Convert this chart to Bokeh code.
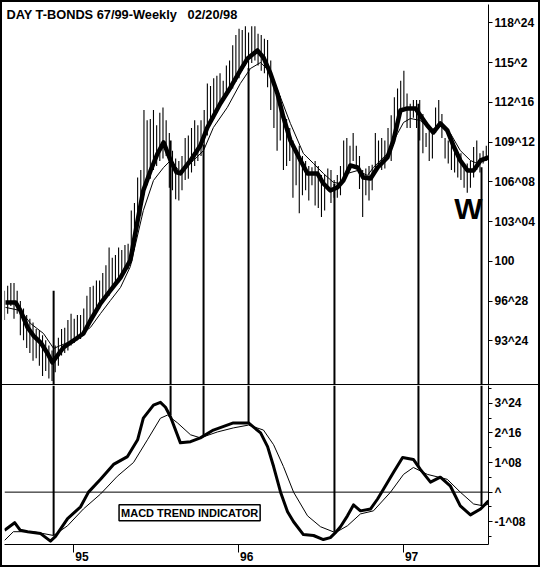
from bokeh.plotting import figure
from bokeh.layouts import column
from bokeh.models import FixedTicker, Span, Label, Range1d
from bokeh.embed import file_html
from bokeh.resources import INLINE

# ---------------- data (x = week index from start of chart) ----------------
weeks = list(range(153))
bar_high = [97.7, 98.1, 98.3, 98.3, 97.7, 96.9, 96.3, 95.8, 95.5, 95.2,
            94.7, 94.6, 94.2, 93.8, 93.4, 93.0, 93.4, 94.0, 94.7, 94.8,
            95.4, 95.9, 95.5, 95.8, 95.8, 96.3, 97.3, 98.0, 98.1, 98.5,
            98.5, 99.1, 99.7, 101.1, 100.3, 100.5, 101.1, 100.9, 101.3, 101.4,
            104.0, 104.6, 106.6, 107.2, 111.9, 111.1, 111.2, 111.9, 110.7, 111.7,
            112.1, 111.1, 110.1, 108.7, 108.1, 107.9, 108.3, 109.7, 109.9, 110.5,
            111.1, 110.7, 111.1, 111.9, 114.0, 113.8, 114.4, 114.6, 114.8, 114.2,
            115.4, 115.8, 117.0, 117.8, 118.3, 118.2, 118.5, 118.0, 118.5, 118.5,
            117.9, 117.8, 117.5, 117.4, 115.8, 114.2, 113.4, 113.0, 111.5, 111.2,
            110.5, 109.5, 108.7, 109.1, 108.3, 107.9, 107.5, 107.4, 107.9, 107.5,
            106.8, 106.8, 107.3, 107.2, 106.4, 106.8, 107.5, 109.5, 109.7, 109.1,
            110.1, 109.1, 108.3, 107.2, 107.3, 107.5, 107.6, 110.1, 109.5, 109.7,
            109.5, 110.5, 111.5, 112.9, 113.6, 114.2, 115.0, 113.2, 112.4, 112.7,
            112.7, 112.7, 111.6, 110.1, 110.3, 110.1, 112.1, 112.7, 111.6, 109.7,
            109.5, 109.3, 108.7, 108.2, 108.5, 107.4, 107.7, 107.9, 109.0, 109.5,
            108.5, 108.7, 109.1]
bar_low = [95.4, 95.9, 96.5, 95.5, 95.9, 94.2, 93.8, 93.2, 92.8, 92.2,
           92.4, 91.8, 91.0, 91.4, 90.8, 90.6, 91.3, 91.8, 92.6, 92.8,
           93.0, 93.4, 93.6, 93.8, 93.9, 94.2, 94.6, 95.2, 95.5, 96.0,
           96.3, 96.8, 97.1, 97.3, 97.7, 98.1, 98.3, 98.7, 99.1, 99.4,
           99.9, 100.9, 102.6, 103.6, 105.2, 106.0, 106.5, 107.2, 107.5, 107.9,
           108.1, 108.3, 105.8, 105.6, 104.9, 104.8, 105.6, 106.4, 106.5, 107.0,
           107.5, 107.9, 108.3, 108.9, 109.9, 110.7, 111.2, 111.7, 112.3, 112.7,
           113.0, 113.3, 113.6, 114.1, 114.4, 115.0, 115.4, 115.2, 115.6, 115.8,
           115.4, 115.0, 114.8, 113.7, 111.9, 110.5, 108.7, 109.5, 107.2, 107.5,
           107.9, 105.0, 106.0, 103.8, 105.2, 105.6, 104.8, 106.0, 104.4, 104.2,
           103.5, 104.0, 105.6, 104.6, 105.0, 105.0, 105.2, 106.4, 106.8, 107.2,
           107.9, 107.5, 105.7, 103.5, 105.2, 104.8, 105.6, 107.2, 107.5, 107.2,
           107.3, 108.5, 107.9, 109.3, 110.5, 111.6, 112.1, 110.5, 110.5, 111.3,
           110.5, 109.5, 108.5, 109.0, 107.9, 108.1, 110.1, 110.5, 109.7, 108.1,
           107.7, 107.2, 107.0, 106.6, 106.4, 105.8, 105.4, 105.8, 106.6, 107.2,
           107.0, 107.7, 107.9]

fast_x = [0.3, 3.5, 5.0, 7.3, 9.1, 11.4, 13.6, 15.1, 16.7, 18.6,
          21.8, 24.9, 27.1, 30.3, 33.4, 36.6, 39.7, 42.0, 43.8, 46.1,
          48.3, 50.2, 52.4, 54.3, 55.5, 58.7, 61.8, 64.0, 68.1, 71.3,
          74.4, 76.7, 79.8, 81.7, 83.9, 86.1, 88.0, 90.2, 93.4, 95.6,
          98.7, 100.6, 102.8, 105.0, 106.9, 109.1, 111.4, 113.2, 115.5, 117.7,
          120.8, 122.7, 124.9, 127.1, 129.7, 131.2, 133.4, 135.3, 137.5, 139.7,
          141.6, 143.8, 146.1, 148.0, 150.2, 152.7]
fast_y = [96.78, 96.78, 96.15, 94.81, 94.18, 93.63, 92.77, 92.06, 92.61, 93.24,
          93.79, 94.34, 95.36, 96.70, 97.72, 98.74, 100.08, 103.22, 105.58, 107.15,
          108.49, 109.36, 107.94, 107.0, 106.92, 107.94, 109.12, 110.53, 112.42, 113.68,
          115.02, 115.96, 116.59, 116.04, 114.78, 113.21, 111.32, 109.51, 107.94, 106.92,
          106.92, 106.13, 105.58, 105.82, 106.37, 107.55, 107.39, 106.60, 106.52, 107.39,
          108.18, 109.51, 111.87, 112.03, 112.03, 111.48, 110.69, 110.14, 110.85, 110.30,
          109.12, 107.94, 107.15, 107.15, 107.94, 108.18]

slow_x = [0.3, 5.0, 8.2, 12.3, 15.5, 17.7, 19.9, 24.9, 27.1, 30.3,
          33.4, 36.6, 39.7, 43.8, 47.0, 50.2, 52.4, 55.5, 59.6, 62.8,
          65.9, 70.3, 74.4, 77.6, 80.8, 83.9, 87.1, 90.2, 94.3, 97.5,
          100.6, 103.8, 106.0, 108.2, 111.4, 114.5, 116.4, 120.8, 124.0, 125.9,
          128.1, 131.2, 134.4, 137.5, 140.7, 143.8, 147.0, 149.2, 152.7]
slow_y = [96.39, 96.15, 95.13, 94.34, 93.16, 93.40, 93.63, 94.42, 94.81, 95.91,
          96.93, 97.96, 99.6, 104.01, 106.37, 107.39, 107.94, 107.0, 107.94, 108.72,
          110.53, 112.11, 113.99, 115.17, 115.64, 114.86, 112.89, 110.85, 108.49, 107.70,
          106.92, 106.21, 106.13, 106.92, 107.15, 106.76, 107.39, 108.49, 110.06, 110.93,
          111.24, 111.08, 110.30, 110.69, 110.06, 108.72, 107.94, 107.70, 108.18]

macd_x = [0, 3.2, 5.0, 7.3, 11.4, 14.5, 16.1, 19.9, 24.0, 26.5,
          30.3, 34.4, 38.8, 42.0, 43.8, 47.0, 49.2, 50.8, 52.4, 55.5,
          58.7, 61.8, 65.9, 72.2, 77.0, 80.8, 83.0, 84.9, 87.1, 89.3,
          91.2, 94.3, 97.5, 100.6, 102.8, 104.4, 106.0, 108.2, 110.1, 112.3,
          115.5, 117.7, 119.6, 122.7, 125.6, 129.0, 131.2, 134.4, 137.5, 140.7,
          143.8, 147.0, 150.2, 152.7]
macd_y = [-1.61, -1.29, -1.61, -1.67, -1.75, -2.07, -1.87, -1.12, -0.62, 0.0,
          0.54, 1.17, 1.50, 2.21, 3.12, 3.67, 3.79, 3.58, 3.17, 2.08,
          2.13, 2.29, 2.62, 2.92, 2.92, 2.50, 1.92, 1.08, 0.0, -0.83,
          -1.25, -1.79, -1.83, -2.00, -1.92, -1.71, -1.46, -1.0, -0.54, -0.79,
          -0.71, -0.29, 0.13, 0.83, 1.46, 1.38, 0.96, 0.42, 0.63, 0.25,
          -0.58, -0.96, -0.71, -0.37]

signal_x = [0, 2.8, 9.1, 15.5, 19.9, 24.9, 30.3, 35.6, 40.7, 45.1,
            49.2, 51.4, 54.6, 58.7, 61.8, 67.2, 72.2, 77.0, 81.7, 84.9,
            88.0, 91.2, 95.6, 99.7, 104.4, 108.2, 112.3, 116.4, 121.8, 125.9,
            129.0, 133.4, 139.7, 143.8, 148.0, 151.1, 152.7]
signal_y = [-2.04, -1.67, -1.67, -1.83, -1.42, -0.71, -0.08, 0.67, 1.25, 2.21,
            3.12, 3.25, 2.92, 2.42, 2.29, 2.54, 2.71, 2.83, 2.62, 2.0,
            1.08, 0.0, -1.0, -1.46, -1.71, -1.42, -0.92, -0.79, 0.0, 0.75,
            1.04, 0.75, 0.54, 0.0, -0.50, -0.58, -0.50]

marker_weeks = [15.5, 52.4, 62.8, 77.0, 104.1, 130.6, 150.5]
marker_price = [97.7, 109.5, 109.2, 115.2, 106.1, 112.4, 107.4]
marker_macd = [-1.83, 3.25, 2.33, 2.92, -1.67, 1.08, -0.58]

price_ticks = [93.75, 96.875, 100, 103.125, 106.25, 109.375, 112.5, 115.625, 118.75]
price_labels = ["93^24", "96^28", "100", "103^04", "106^08", "109^12", "112^16", "115^2", "118^24"]
macd_ticks = [-1.25, 0, 1.25, 2.5, 3.75]
macd_minor = [-1.875, -0.625, 0.625, 1.875, 3.125, 4.375]
macd_labels = ["-1^08", "^", "1^08", "2^16", "3^24"]
year_ticks = [21.8, 73.8, 125.8]
year_labels = ["95", "96", "97"]

NB = "\u00a0"
title_text = "DAY T-BONDS 67/99-Weekly" + NB * 3 + "02/20/98"
panel_text = "MACD TREND INDICATOR"

FONT = "Liberation Sans"

xr = Range1d(0, 152.7)
price_range = Range1d(90.33, 120.2)
macd_range = Range1d(-2.21, 4.5)


def style_axis(ax):
    ax.axis_line_color = "black"
    ax.axis_line_width = 1
    ax.major_tick_line_color = "black"
    ax.minor_tick_line_color = "black"
    ax.major_label_text_font = FONT
    ax.major_label_text_font_style = "bold"
    ax.major_label_text_font_size = "12px"
    ax.major_label_text_color = "black"


p1 = figure(width=536, height=382, x_range=xr, y_range=price_range,
            output_backend="svg", toolbar_location=None,
            y_axis_location="right", x_axis_location=None,
            min_border_left=2, min_border_right=50, min_border_top=2, min_border_bottom=0)
p1.xgrid.visible = False
p1.ygrid.visible = False
p1.outline_line_color = None
p1.yaxis.ticker = FixedTicker(ticks=price_ticks, minor_ticks=[])
p1.yaxis.major_label_overrides = dict(zip(price_ticks, price_labels))
style_axis(p1.yaxis[0])
p1.yaxis.major_tick_out = 4
p1.yaxis.major_tick_in = 0
p1.yaxis.major_label_standoff = 2

p1.segment(x0=weeks, y0=bar_low, x1=weeks, y1=bar_high, line_color="#000000", line_width=1.1)
p1.segment(x0=marker_weeks, y0=[price_range.start] * len(marker_weeks),
           x1=marker_weeks, y1=marker_price, line_color="black", line_width=2)
p1.line(slow_x, slow_y, line_color="black", line_width=1)
p1.line(fast_x, fast_y, line_color="black", line_width=4.5, line_join="round")

p1.add_layout(Label(x=0.6, y=119.45, text=title_text, text_font=FONT, text_font_style="bold",
                    text_font_size="12.8px", text_baseline="middle", text_align="left",
                    text_color="black"))
p1.add_layout(Label(x=146.4, y=104.2, text="W", text_font=FONT, text_font_style="bold",
                    text_font_size="30px", text_baseline="middle", text_align="center",
                    text_color="black"))

p2 = figure(width=536, height=181, x_range=xr, y_range=macd_range,
            output_backend="svg", toolbar_location=None,
            y_axis_location="right", x_axis_location="below",
            min_border_left=2, min_border_right=50, min_border_top=0, min_border_bottom=20,
            styles={"border-top": "1px solid black"})
p2.xgrid.visible = False
p2.ygrid.visible = False
p2.outline_line_color = None
p2.yaxis.ticker = FixedTicker(ticks=macd_ticks, minor_ticks=macd_minor)
p2.yaxis.major_label_overrides = dict(zip(macd_ticks, macd_labels))
style_axis(p2.yaxis[0])
p2.yaxis.major_tick_out = 4
p2.yaxis.major_tick_in = 0
p2.yaxis.minor_tick_out = 3
p2.yaxis.minor_tick_in = 0
p2.yaxis.major_label_standoff = 2

p2.xaxis.ticker = FixedTicker(ticks=year_ticks, minor_ticks=[])
# labels sit just to the right of their tick, as in the original
p2.xaxis.major_label_overrides = {t: NB * 5 + s for t, s in zip(year_ticks, year_labels)}
style_axis(p2.xaxis[0])
p2.xaxis.major_tick_out = 8
p2.xaxis.major_tick_in = 0
p2.xaxis.major_label_standoff = -3

p2.add_layout(Span(location=0, dimension="width", line_color="black", line_width=1))
p2.segment(x0=marker_weeks, y0=marker_macd, x1=marker_weeks,
           y1=[macd_range.end] * len(marker_weeks), line_color="black", line_width=2)
p2.line(signal_x, signal_y, line_color="black", line_width=1)
p2.line(macd_x, macd_y, line_color="black", line_width=3, line_join="round")
p2.add_layout(Label(x=58.4, y=-0.875, text=panel_text, text_font=FONT, text_font_style="bold",
                    text_font_size="11px", text_baseline="middle", text_align="center",
                    text_color="black", border_line_color="black", border_line_width=1.5,
                    background_fill_color="white", padding=2))

layout = column(p1, p2, styles={"border": "2px solid black"})

open("out.html", "w").write(file_html(layout, INLINE))
